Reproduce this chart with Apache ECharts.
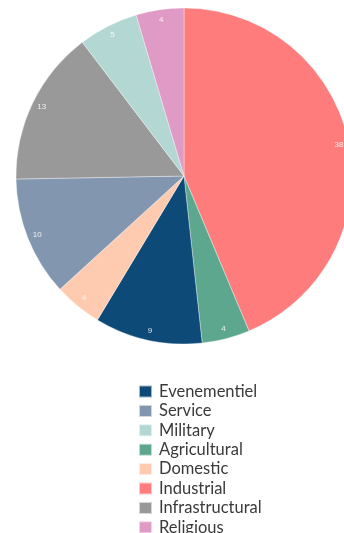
<!DOCTYPE html>
<html>
<head>
<meta charset="utf-8">
<script src="https://cdn.jsdelivr.net/npm/echarts@6/dist/echarts.min.js"></script>
<style>
  html, body { margin: 0; padding: 0; background: #fff; }
  #chart { width: 344px; height: 533px; }
</style>
</head>
<body>
<div id="chart"></div>
<script>
// Slice order around the pie (clockwise from 12 o'clock)
const categories = ['Industrial', 'Agricultural', 'Evenementiel', 'Domestic', 'Service', 'Infrastructural', 'Military', 'Religious'];
const counts = [38, 4, 9, 4, 10, 13, 5, 4];
const colors = ['#ff7c7c', '#5ea78f', '#0e4a78', '#fecbb0', '#8296b0', '#999999', '#b3d7d3', '#df9ac5'];
// Order of entries in the legend
const legendOrder = ['Evenementiel', 'Service', 'Military', 'Agricultural', 'Domestic', 'Industrial', 'Infrastructural', 'Religious'];

const slices = categories.map((name, i) => ({
  name: name,
  value: counts[i],
  itemStyle: { color: colors[i] }
}));

// Transparent ring near the rim that carries the value labels
const labelRing = categories.map((name, i) => ({
  name: name,
  value: counts[i],
  itemStyle: { color: 'rgba(0,0,0,0)' }
}));

const chart = echarts.init(document.getElementById('chart'), null, { renderer: 'canvas' });
chart.setOption({
  animation: false,
  color: colors,
  legend: {
    orient: 'vertical',
    left: 133,
    top: 378,
    height: 400,
    itemWidth: 13,
    itemHeight: 12,
    itemGap: 2.4,
    icon: 'rect',
    data: legendOrder,
    textStyle: { fontFamily: 'Lato', fontSize: 16.5, lineHeight: 16, color: '#3a3a3a', padding: [0, 0, 0, 2] }
  },
  series: [
    {
      type: 'pie',
      center: [184, 176],
      radius: [0, 168],
      startAngle: 90,
      clockwise: true,
      silent: true,
      label: { show: false },
      labelLine: { show: false },
      itemStyle: { borderColor: 'rgba(255,255,255,0.6)', borderWidth: 0.6 },
      data: slices
    },
    {
      type: 'pie',
      center: [184, 176],
      radius: [144, 166],
      startAngle: 90,
      clockwise: true,
      silent: true,
      legendHoverLink: false,
      label: {
        show: true,
        position: 'inside',
        formatter: '{c}',
        color: 'rgba(255,255,255,0.85)',
        fontFamily: 'Liberation Sans',
        fontSize: 8
      },
      labelLine: { show: false },
      data: labelRing
    }
  ]
});
</script>
</body>
</html>
